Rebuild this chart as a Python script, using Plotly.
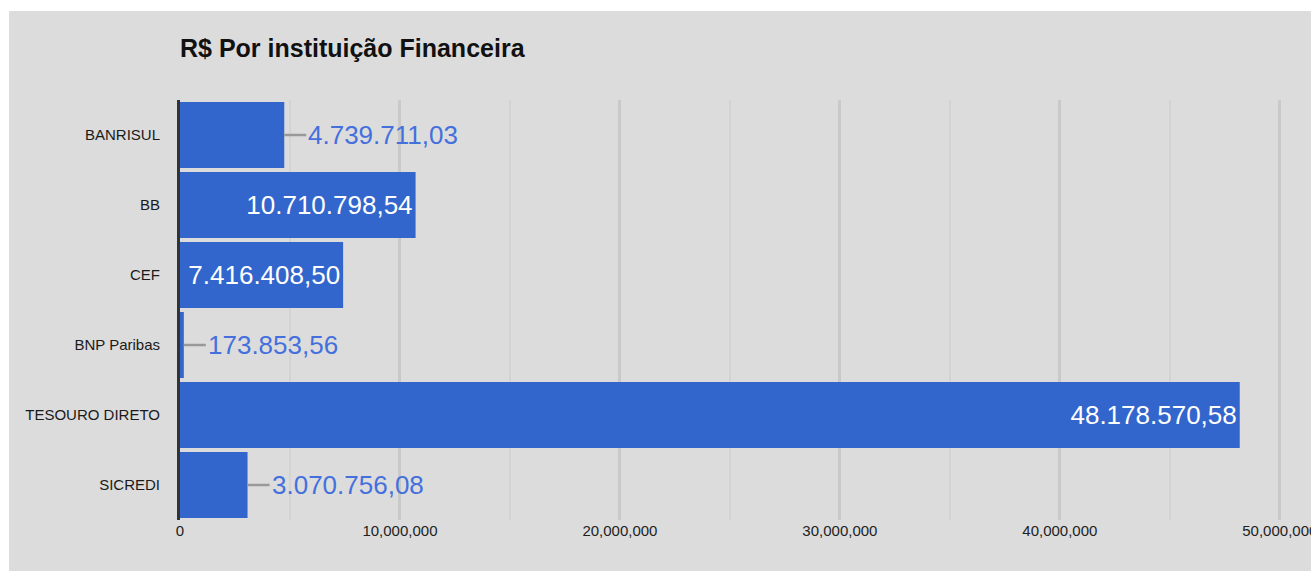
import plotly.graph_objects as go

# ---- data ----
categories = ["BANRISUL", "BB", "CEF", "BNP Paribas", "TESOURO DIRETO", "SICREDI"]
values = [4739711.03, 10710798.54, 7416408.50, 173853.56, 48178570.58, 3070756.08]
x_tick_vals = [0, 10000000, 20000000, 30000000, 40000000, 50000000]
x_range = [0, 50100000]
title_text = "R$ Por instituição Financeira"

BAR = "#3366cc"
FONT = "Arial, Liberation Sans, sans-serif"


def br(v):
    s = f"{v:,.2f}"
    return s.replace(",", "X").replace(".", ",").replace("X", ".")


labels = [br(v) for v in values]
inside = [v > 5000000 for v in values]
inside_text = [l if ins else "" for l, ins in zip(labels, inside)]

fig = go.Figure()
fig.add_trace(go.Bar(
    y=categories,
    x=values,
    orientation="h",
    marker=dict(color=BAR, line=dict(width=0)),
    text=inside_text,
    textposition="inside",
    insidetextanchor="end",
    constraintext="none",
    textfont=dict(color="white", size=26, family=FONT),
    hoverinfo="skip",
))

annotations = []
for c, v, l, ins in zip(categories, values, labels, inside):
    if not ins:
        annotations.append(dict(
            x=v, y=c, xref="x", yref="y",
            text=l, showarrow=True, arrowhead=0, arrowwidth=2.5,
            arrowcolor="#999999", ax=22, ay=0, xanchor="left",
            standoff=0, startstandoff=0,
            font=dict(size=26, color="#4470dd", family=FONT),
        ))

W = 1311
H = 571
L, R, T, B = 180, 29, 100, 51
PW = W - L - R
PH = H - T - B

fig.update_layout(
    width=W, height=H,
    margin=dict(l=L, r=R, t=T, b=B, autoexpand=False),
    paper_bgcolor="white",
    plot_bgcolor="#dcdcdc",
    bargap=0.057,
    showlegend=False,
    title=dict(
        text="<b>" + title_text + "</b>",
        x=0, xref="paper", xanchor="left",
        y=1 - 48 / H, yref="container", yanchor="middle",
        font=dict(size=25, color="#111111", family=FONT),
    ),
    annotations=annotations,
    shapes=[dict(
        type="rect", xref="paper", yref="paper",
        x0=(9 - L) / PW, x1=(W + 5 - L) / PW,
        y0=(H - B - (H + 5)) / PH, y1=(H - B - 11) / PH,
        fillcolor="#dcdcdc", line=dict(width=0), layer="below",
    )],
    xaxis=dict(
        range=x_range,
        tickvals=x_tick_vals,
        tickformat=",d",
        ticklabeloverflow="allow",
        automargin=False,
        showgrid=True, gridcolor="#c9c9c9", gridwidth=2.5,
        minor=dict(dtick=5000000, showgrid=True, gridcolor="#d3d3d3", gridwidth=2),
        zeroline=False, showline=False, ticks="",
        tickfont=dict(size=15, color="#222222", family=FONT),
        fixedrange=True,
    ),
    yaxis=dict(
        autorange="reversed",
        automargin=False,
        showline=True, linecolor="#333333", linewidth=3,
        showgrid=False, zeroline=False, ticks="",
        ticklabelstandoff=14,
        tickfont=dict(size=15, color="#1a1a1a", family=FONT),
        fixedrange=True,
    ),
)

fig.write_html("out.html")
